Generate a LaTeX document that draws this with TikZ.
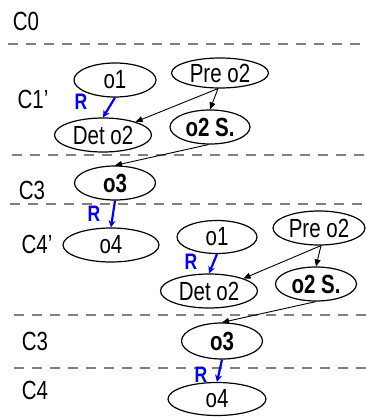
\documentclass[tikz,border=0pt]{standalone}
\usepackage{fontspec}
\usepackage{graphicx}
\setmainfont{Liberation Sans}
\usetikzlibrary{shapes.geometric,arrows.meta}
\definecolor{sepgray}{RGB}{128,128,128}
\definecolor{relblue}{RGB}{0,0,255}
% text is set taller than wide
\newcommand\tallText[1]{\scalebox{1}[1.28]{#1}}
\tikzset{
  state/.style={ellipse, draw=black, line width=1.2pt, inner sep=0pt,
    minimum width=#1, minimum height=34pt, font=\fontsize{20.5}{24}\selectfont},
  state/.default=82pt,
  lane/.style={font=\fontsize{20.5}{24}\selectfont, inner sep=0pt},
  sep/.style={draw=sepgray, line width=2.3pt, dash pattern=on 10pt off 8pt},
  flow/.style={draw=black, line width=0.9pt, -{Triangle[length=7pt,width=6pt]}},
  rel/.style={draw=relblue, line width=2.2pt, -{Stealth[length=7pt,width=7pt]}},
  rlab/.style={text=relblue, font=\fontsize{17.5}{20}\selectfont\bfseries, inner sep=0pt}
}
\begin{document}
\begin{tikzpicture}[x=1pt, y=-1pt]
  \useasboundingbox (0,0) rectangle (366,417);

  % lane separators
  \coordinate (s1a) at (8,44.3);   \coordinate (s1b) at (366,44.3);
  \coordinate (s2a) at (12,155);   \coordinate (s2b) at (366,155);
  \coordinate (s3a) at (10,204);   \coordinate (s3b) at (366,204);
  \coordinate (s4a) at (14,315);   \coordinate (s4b) at (366,315);
  \coordinate (s5a) at (14,368);   \coordinate (s5b) at (366,368);
  \foreach \s in {1,...,5} \draw[sep] (s\s a) -- (s\s b);

  % lane labels
  \node[lane] (c0)  at (26,21)  {\tallText{C0}};
  \node[lane] (c1)  at (33,99)  {\tallText{C1’}};
  \node[lane] (c3a) at (32,190) {\tallText{C3}};
  \node[lane] (c4a) at (37,244) {\tallText{C4’}};
  \node[lane] (c3b) at (35,341) {\tallText{C3}};
  \node[lane] (c4b) at (35,390) {\tallText{C4}};

  % first group
  \node[state=82pt]                  (o1a)  at (115,80)  {\tallText{o1}};
  \node[state=97pt, minimum height=30pt] (preA) at (220,73)  {\tallText{Pre o2}};
  \node[state=97pt]                  (detA) at (103,135) {\tallText{Det o2}};
  \node[state=80pt]                  (sA)   at (210,127) {\tallText{\bfseries o2 S.}};
  \node[state=81pt]                  (o3a)  at (115,183) {\tallText{\bfseries o3}};
  \node[state=96pt]                  (o4a)  at (111,245) {\tallText{o4}};

  % second group
  \node[state=80pt, minimum height=33pt] (o1b) at (217,237) {\tallText{o1}};
  \node[state=92pt]                  (preB) at (319,228) {\tallText{Pre o2}};
  \node[state=97pt]                  (detB) at (209,291) {\tallText{Det o2}};
  \node[state=81pt]                  (sB)   at (316,284) {\tallText{\bfseries o2 S.}};
  \node[state=81pt, minimum height=36pt] (o3b) at (222,341) {\tallText{\bfseries o3}};
  \node[state=98pt, minimum height=33pt] (o4b) at (217,399) {\tallText{o4}};

  % flow arrows
  \draw[flow] ([xshift=-2pt]preA.south) -- (detA.22);
  \draw[flow] ([xshift=-2pt]preA.south) -- (sA.north);
  \draw[flow] (sA.265) -- (o3a.north);
  \draw[flow] ([xshift=2pt]preB.south) -- (detB.20);
  \draw[flow] ([xshift=2pt]preB.south) -- (sB.north);
  \draw[flow] (sB.south) -- (o3b.north);

  % R relations
  \draw[rel] (o1a.south) -- (detA.north);
  \draw[rel] (o3a.south) -- (o4a.north);
  \draw[rel] (o1b.south) -- (detB.north);
  \draw[rel] (o3b.south) -- (o4b.north);
  \node[rlab] (r1) at (81,102)  {\tallText{R}};
  \node[rlab] (r2) at (94,214)  {\tallText{R}};
  \node[rlab] (r3) at (191,262) {\tallText{R}};
  \node[rlab] (r4) at (201,375) {\tallText{R}};
\end{tikzpicture}
\end{document}
